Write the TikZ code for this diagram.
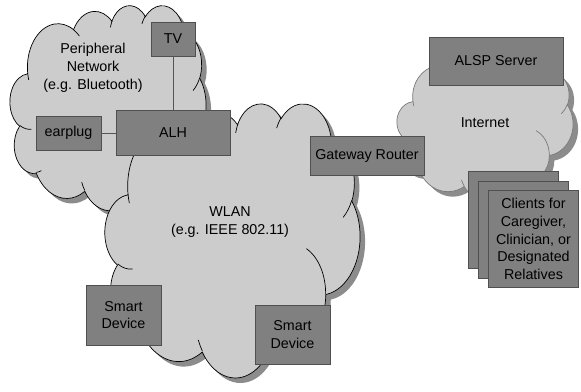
\documentclass[tikz,border=0pt]{standalone}
\usepackage{fontspec}
\setmainfont{Liberation Sans}
\definecolor{cloudfill}{HTML}{CCCCCC}
\definecolor{cloudshadow}{HTML}{8C8C8C}
\definecolor{boxfill}{HTML}{808080}
\definecolor{boxline}{HTML}{505050}
\definecolor{linkc}{HTML}{555555}
\definecolor{inetline}{HTML}{7A7A7A}
\newcommand\netcloud[5]{%
\begin{scope}[shift={(#1,#2)},x=#3pt,y=-#4pt]
\fill[cloudshadow,xshift=5pt,yshift=-5pt] (3.9,14.37)
 arc[x radius=6.753,y radius=9.19,start angle=-187.745,end angle=-59.638]
 arc[x radius=5.333,y radius=7.267,start angle=-152.024,end angle=-45.456]
 arc[x radius=4.365,y radius=5.945,start angle=-153.489,end angle=-37.33]
 arc[x radius=4.857,y radius=6.595,start angle=-139.713,end angle=-10.211]
 arc[x radius=5.333,y radius=7.273,start angle=-74.768,end angle=23.209]
 arc[x radius=6.775,y radius=9.22,start angle=-37.529,end angle=81.862]
 arc[x radius=5.785,y radius=7.867,start angle=0.459,end angle=121.981]
 arc[x radius=6.752,y radius=9.215,start angle=16.847,end angle=146.237]
 arc[x radius=7.72,y radius=10.543,start angle=58.985,end angle=150.185]
 arc[x radius=4.36,y radius=5.918,start angle=-276.693,end angle=-136.893]
 arc[x radius=4.345,y radius=5.945,start angle=-239.649,end angle=-95.887]
 -- cycle;
\filldraw[fill=cloudfill,draw=#5,line width=0.7pt] (3.9,14.37)
 arc[x radius=6.753,y radius=9.19,start angle=-187.745,end angle=-59.638]
 arc[x radius=5.333,y radius=7.267,start angle=-152.024,end angle=-45.456]
 arc[x radius=4.365,y radius=5.945,start angle=-153.489,end angle=-37.33]
 arc[x radius=4.857,y radius=6.595,start angle=-139.713,end angle=-10.211]
 arc[x radius=5.333,y radius=7.273,start angle=-74.768,end angle=23.209]
 arc[x radius=6.775,y radius=9.22,start angle=-37.529,end angle=81.862]
 arc[x radius=5.785,y radius=7.867,start angle=0.459,end angle=121.981]
 arc[x radius=6.752,y radius=9.215,start angle=16.847,end angle=146.237]
 arc[x radius=7.72,y radius=10.543,start angle=58.985,end angle=150.185]
 arc[x radius=4.36,y radius=5.918,start angle=-276.693,end angle=-136.893]
 arc[x radius=4.345,y radius=5.945,start angle=-239.649,end angle=-95.887]
 -- cycle;
\draw[#5,line width=0.7pt]
 (4.693,26.177) arc[x radius=4.345,y radius=5.945,start angle=85.547,end angle=120.351]
 (6.928,34.899) arc[x radius=4.36,y radius=5.918,start angle=68.24,end angle=83.307]
 (16.478,39.09) arc[x radius=6.752,y radius=9.215,start angle=146.237,end angle=158.475]
 (28.827,34.751) arc[x radius=6.752,y radius=9.215,start angle=4.738,end angle=16.847]
 (34.129,22.954) arc[x radius=5.785,y radius=7.867,start angle=-64.029,end angle=0.459]
 (41.798,15.354) arc[x radius=5.333,y radius=7.273,start angle=23.209,end angle=49.642]
 (38.324,5.426) arc[x radius=4.857,y radius=6.595,start angle=-10.211,end angle=0.821]
 (29.078,3.952) arc[x radius=4.857,y radius=6.595,start angle=-156.282,end angle=-139.713]
 (22.141,4.72) arc[x radius=4.365,y radius=5.945,start angle=-167.725,end angle=-153.489]
 (14,5.192) arc[x radius=6.753,y radius=9.19,start angle=-59.638,end angle=-45.733]
 (4.127,15.789) arc[x radius=6.753,y radius=9.19,start angle=163.193,end angle=172.255];
\end{scope}}
\tikzset{
  box/.style={draw=boxline,fill=boxfill,line width=0.6pt,inner sep=0pt,align=center,text=black},
  link/.style={draw=linkc,line width=0.7pt}
}
\begin{document}
\begin{tikzpicture}[x=1pt,y=-1pt,font=\fontsize{14.3}{17.8}\selectfont]
\fill[white] (0,0) rectangle (581,391);
\useasboundingbox (0,0) rectangle (581,391);
% clouds
\netcloud{10}{5}{4.5370}{4.7454}{black}
\netcloud{105}{103}{5.9028}{6.3426}{black}
\netcloud{397}{52}{4.0741}{3.4259}{inetline}
% cloud labels
\node[align=center] (perlabel) at (93,68) {Peripheral\\Network\\(e.g. Bluetooth)};
\node[align=center] (wlanlabel) at (230,222) {WLAN\\(e.g. IEEE 802.11)};
\node (inetlabel) at (485,123) {Internet};
% boxes
\node[box,minimum width=44pt,minimum height=34pt] (tv) at (173,39) {TV};
\node[box,minimum width=114pt,minimum height=45pt] (alh) at (173,133) {ALH};
\node[box,minimum width=65pt,minimum height=34pt] (earplug) at (68.5,133) {earplug};
\node[box,minimum width=114pt,minimum height=39pt] (gw) at (367,155.5) {Gateway Router};
\node[box,minimum width=134pt,minimum height=48pt] (alsp) at (496,61) {ALSP Server};
\node[box,minimum width=75pt,minimum height=60pt] (sd1) at (123.5,315) {Smart\\Device};
\node[box,minimum width=75pt,minimum height=59pt] (sd2) at (292.5,334.5) {Smart\\Device};
\node[box,minimum width=90pt,minimum height=97pt] (cl1) at (513,219.5) {};
\node[box,minimum width=90pt,minimum height=97pt] (cl2) at (523.5,229.5) {};
\node[box,minimum width=90pt,minimum height=97pt] (cl3) at (533.5,239) {Clients for\\Caregiver,\\Clinician, or\\Designated\\Relatives};
% links
\draw[link] (tv) -- (alh);
\draw[link] (earplug) -- (alh);
\end{tikzpicture}
\end{document}
